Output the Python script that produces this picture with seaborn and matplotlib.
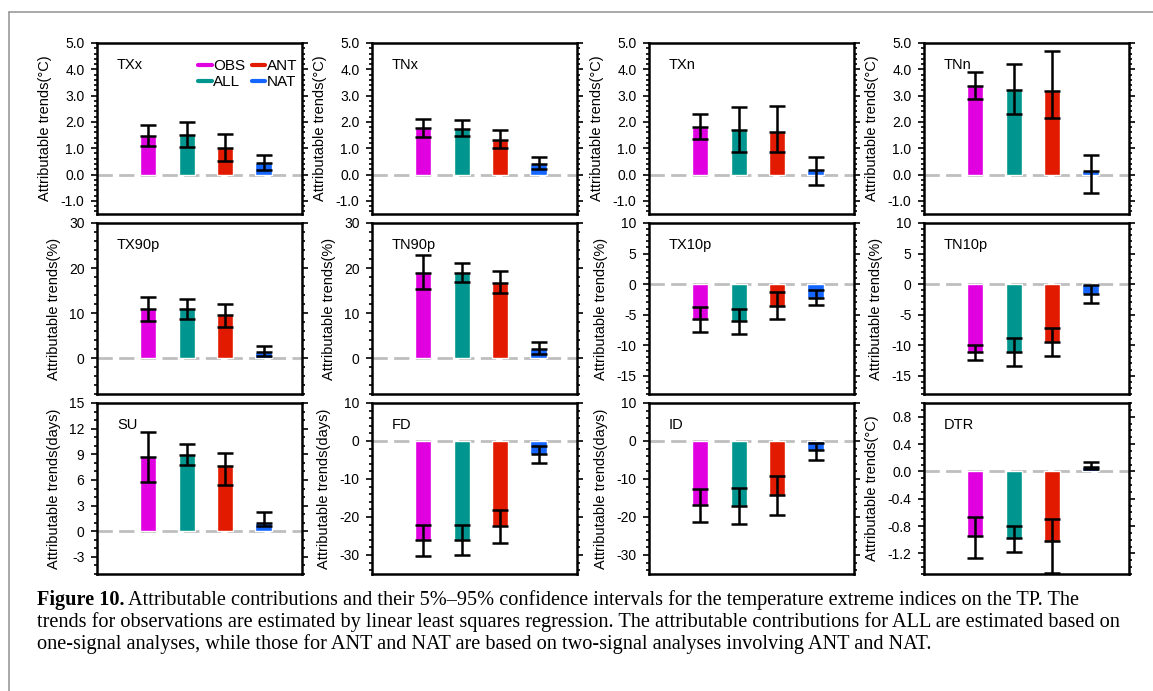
import numpy as np
import pandas as pd
import matplotlib
matplotlib.use('Agg')
import matplotlib.pyplot as plt
import seaborn as sns
from matplotlib.lines import Line2D
from matplotlib.ticker import MultipleLocator, FormatStrFormatter

# 数据：四个信号
groups = ['OBS', 'ALL', 'ANT', 'NAT']
group_colors = ['#E000E0', '#00968F', '#E21A00', '#1466FF']

indices = ['TXx', 'TNx', 'TXn', 'TNn',
           'TX90p', 'TN90p', 'TX10p', 'TN10p',
           'SU', 'FD', 'ID', 'DTR']
units = ['(°C)', '(°C)', '(°C)', '(°C)',
         '(%)', '(%)', '(%)', '(%)',
         '(days)', '(days)', '(days)', '(°C)']

# 最佳估计（柱高），顺序 OBS, ALL, ANT, NAT
best = {
    'TXx':   [1.45, 1.50, 1.02, 0.42],
    'TNx':   [1.75, 1.74, 1.33, 0.39],
    'TXn':   [1.82, 1.69, 1.62, 0.18],
    'TNn':   [3.37, 3.23, 3.19, 0.13],
    'TX90p': [10.8, 10.8, 9.5, 1.4],
    'TN90p': [18.9, 18.9, 16.7, 2.0],
    'TX10p': [-5.7, -6.0, -3.6, -2.2],
    'TN10p': [-11.1, -11.1, -9.5, -1.6],
    'SU':    [8.7, 8.9, 7.6, 1.0],
    'FD':    [-26.1, -26.1, -22.4, -3.4],
    'ID':    [-16.9, -17.0, -14.2, -2.4],
    'DTR':   [-0.95, -0.98, -1.02, 0.07],
}
# 5% 置信下限
ci_low = {
    'TXx':   [1.07, 1.03, 0.52, 0.16],
    'TNx':   [1.43, 1.47, 1.00, 0.20],
    'TXn':   [1.36, 0.86, 0.85, -0.38],
    'TNn':   [2.89, 2.32, 2.16, -0.70],
    'TX90p': [8.3, 8.7, 7.0, 0.4],
    'TN90p': [15.3, 17.0, 14.4, 0.9],
    'TX10p': [-7.8, -8.1, -5.7, -3.5],
    'TN10p': [-12.4, -13.4, -11.8, -3.1],
    'SU':    [5.8, 7.7, 5.4, 0.6],
    'FD':    [-30.2, -30.0, -26.9, -5.9],
    'ID':    [-21.3, -21.9, -19.4, -5.0],
    'DTR':   [-1.26, -1.18, -1.48, 0.03],
}
# 95% 置信上限
ci_high = {
    'TXx':   [1.88, 1.98, 1.54, 0.75],
    'TNx':   [2.10, 2.07, 1.69, 0.65],
    'TXn':   [2.32, 2.57, 2.61, 0.67],
    'TNn':   [3.88, 4.22, 4.69, 0.74],
    'TX90p': [13.6, 13.1, 12.1, 2.7],
    'TN90p': [22.9, 21.1, 19.3, 3.5],
    'TX10p': [-3.8, -4.0, -1.3, -1.0],
    'TN10p': [-9.9, -8.8, -7.2, -0.2],
    'SU':    [11.6, 10.2, 9.1, 2.2],
    'FD':    [-22.0, -22.1, -18.2, -1.3],
    'ID':    [-12.5, -12.3, -9.2, -0.4],
    'DTR':   [-0.66, -0.80, -0.69, 0.14],
}

# 坐标轴设置：ylim, 主刻度, 次刻度, 格式
axis_cfg = {
    'TXx': ((-1.5, 5.0), 1, 0.2, '%.1f'),
    'TNx': ((-1.5, 5.0), 1, 0.2, '%.1f'),
    'TXn': ((-1.5, 5.0), 1, 0.2, '%.1f'),
    'TNn': ((-1.5, 5.0), 1, 0.2, '%.1f'),
    'TX90p': ((-8, 30), 10, 2, '%d'),
    'TN90p': ((-8, 30), 10, 2, '%d'),
    'TX10p': ((-18, 10), 5, 1, '%d'),
    'TN10p': ((-18, 10), 5, 1, '%d'),
    'SU': ((-5, 15), 3, 1, '%d'),
    'FD': ((-35, 10), 10, 2, '%d'),
    'ID': ((-35, 10), 10, 2, '%d'),
    'DTR': ((-1.5, 1.0), 0.4, 0.1, '%.1f'),
}

caption_bold = 'Figure 10.'
caption_lines = [
    ' Attributable contributions and their 5%\u201395% confidence intervals for the temperature extreme indices on the TP. The',
    'trends for observations are estimated by linear least squares regression. The attributable contributions for ALL are estimated based on',
    'one-signal analyses, while those for ANT and NAT are based on two-signal analyses involving ANT and NAT.',
]

sns.set_style('ticks', {'axes.edgecolor': 'black', 'xtick.color': 'black', 'ytick.color': 'black',
                        'text.color': 'black', 'axes.labelcolor': 'black'})
plt.rcParams['font.family'] = ['Liberation Sans', 'DejaVu Sans']
plt.rcParams['axes.unicode_minus'] = False

W, H = 1153, 691
fig = plt.figure(figsize=(W / 100, H / 100), dpi=100)
fig.patch.set_facecolor('white')

col_left = [97, 372, 649, 924]
row_top = [43, 223, 403]
pw, ph = 205, 171

for i, name in enumerate(indices):
    r, c = divmod(i, 4)
    ax = fig.add_axes([col_left[c] / W, 1 - (row_top[r] + ph) / H, pw / W, ph / H])
    vals = np.array(best[name])
    lo = np.array(ci_low[name])
    hi = np.array(ci_high[name])
    df = pd.DataFrame({'group': groups, 'value': vals})

    ax.axhline(0, color='#BEBEBE', lw=2, ls=(0, (5.5, 2.3)), zorder=0.5)
    sns.barplot(data=df, x='group', y='value', hue='group', palette=group_colors,
                width=0.42, saturation=1, legend=False, ax=ax, zorder=2)
    ax.errorbar(np.arange(4), vals, yerr=[vals - lo, hi - vals], fmt='_', color='black',
                ms=11.5, mew=1.8, elinewidth=1.8, capsize=5.75, capthick=1.8, zorder=3)

    ylim, major, minor, fmt = axis_cfg[name]
    ax.set_xlim(-1.33, 4.0)
    ax.set_ylim(*ylim)
    ax.yaxis.set_major_locator(MultipleLocator(major))
    ax.yaxis.set_minor_locator(MultipleLocator(minor))
    ax.yaxis.set_major_formatter(FormatStrFormatter(fmt))
    ax.set_xticks([])
    ax.set_xlabel('')
    ax.tick_params(axis='y', which='both', direction='out', left=True, right=True,
                   labelright=False, width=1.2, labelsize=10, pad=5)
    ax.tick_params(axis='y', which='major', length=4)
    ax.tick_params(axis='y', which='minor', length=2)
    for sp in ax.spines.values():
        sp.set_linewidth(1.8)
        sp.set_visible(True)
    ax.set_ylabel('Attributable trends' + units[i], fontsize=10.5, labelpad=6)
    ax.text(0.097, 0.87, name, transform=ax.transAxes, fontsize=10.5, va='center')

    if i == 0:
        handles = [Line2D([0], [0], color=col, lw=3) for col in group_colors]
        ax.legend(handles, groups, ncol=2, loc='upper right', bbox_to_anchor=(0.985, 0.915),
                  frameon=False, fontsize=11, handlelength=0.9, handletextpad=0.1,
                  columnspacing=0.4, labelspacing=0.15, borderaxespad=0, borderpad=0.1)

# 外框
fig.add_artist(Line2D([9 / W, 9 / W], [0, 1 - 12 / H], transform=fig.transFigure, color='#9A9A9A', lw=1.2))
fig.add_artist(Line2D([9 / W, 1], [1 - 12 / H, 1 - 12 / H], transform=fig.transFigure, color='#9A9A9A', lw=1.2))

# 图注
serif = ['Liberation Serif', 'DejaVu Serif']
cap_size = 14.6
x0 = 37 / W
line_y = [600, 622, 644]
renderer = fig.canvas.get_renderer()
tb = fig.text(x0, 1 - line_y[0] / H, caption_bold, fontsize=cap_size, family=serif,
              weight='bold', va='center')
bb = tb.get_window_extent(renderer=renderer)
fig.text(bb.x1 / W, 1 - line_y[0] / H, caption_lines[0], fontsize=cap_size, family=serif, va='center')
for k in (1, 2):
    fig.text(x0, 1 - line_y[k] / H, caption_lines[k], fontsize=cap_size, family=serif, va='center')

fig.savefig('out.png', dpi=100, facecolor='white')
